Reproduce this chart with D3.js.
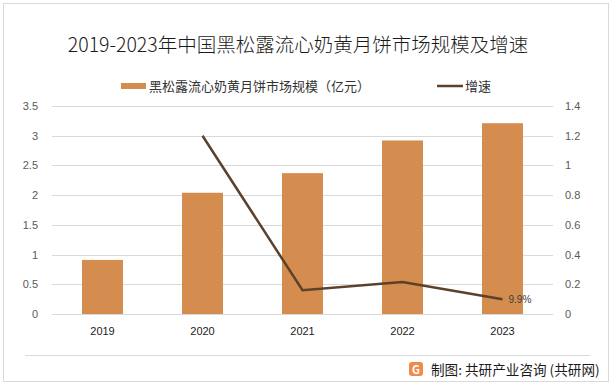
<!DOCTYPE html>
<html>
<head>
<meta charset="utf-8">
<script src="https://cdn.jsdelivr.net/npm/d3@7"></script>
<style>
  body { margin: 0; background: #fff; }
  text { font-family: "Noto Sans CJK SC", "Noto Sans", sans-serif; }
</style>
</head>
<body>
<script>
// data
const years = ["2019", "2020", "2021", "2022", "2023"];
const marketSize = [0.91, 2.04, 2.37, 2.92, 3.21];
const growthYears = ["2020", "2021", "2022", "2023"];
const growthRate = [1.2, 0.16, 0.215, 0.099];
const leftTicks = [0, 0.5, 1, 1.5, 2, 2.5, 3, 3.5];
const rightTicks = [0, 0.2, 0.4, 0.6, 0.8, 1, 1.2, 1.4];

const width = 613, height = 386;
const margin = { top: 106, right: 60, bottom: 72, left: 52 };
const chartWidth = width - margin.left - margin.right;
const chartHeight = height - margin.top - margin.bottom;

const barColor = "#d48c4f";
const lineColor = "#5c412b";

const root = d3.select("body").append("svg")
    .attr("width", width)
    .attr("height", height);

// outer frame
root.append("rect")
    .attr("x", 3.5).attr("y", 3.5)
    .attr("width", width - 8).attr("height", height - 8)
    .attr("fill", "#fff")
    .attr("stroke", "#d9d9d9");

// title
root.append("text")
    .attr("x", 298)
    .attr("y", 52)
    .attr("text-anchor", "middle")
    .style("font-size", "19.5px")
    .style("font-weight", "300")
    .attr("fill", "#1a1a1a")
    .text("2019-2023年中国黑松露流心奶黄月饼市场规模及增速");

// legend
const legend = root.append("g").style("font-size", "13px").attr("fill", "#333");
legend.append("rect").attr("x", 121).attr("y", 83).attr("width", 25).attr("height", 6).attr("fill", barColor);
legend.append("text").attr("x", 149).attr("y", 91).text("黑松露流心奶黄月饼市场规模（亿元）");
legend.append("line").attr("x1", 437).attr("x2", 463).attr("y1", 86).attr("y2", 86)
    .attr("stroke", lineColor).attr("stroke-width", 2.5);
legend.append("text").attr("x", 465).attr("y", 91).text("增速");

const svg = root.append("g")
    .attr("transform", `translate(${margin.left},${margin.top})`);

// scales
const x = d3.scaleBand().domain(years).range([0, chartWidth]).paddingInner(0.59).paddingOuter(0.3);
const xc = d => x(d) + x.bandwidth() / 2;
const yLeft = d3.scaleLinear().domain([0, 3.5]).range([chartHeight, 0]);
const yRight = d3.scaleLinear().domain([0, 1.4]).range([chartHeight, 0]);

// gridlines
svg.append("g")
    .selectAll("line")
    .data(leftTicks)
    .join("line")
    .attr("x1", 0).attr("x2", chartWidth)
    .attr("y1", d => Math.round(yLeft(d)) + 0.5)
    .attr("y2", d => Math.round(yLeft(d)) + 0.5)
    .attr("stroke", "#d9d9d9");

// left axis
const axL = svg.append("g")
    .call(d3.axisLeft(yLeft).tickValues(leftTicks).tickSize(0).tickPadding(14).tickFormat(d3.format("")));
axL.select(".domain").remove();
axL.selectAll("text").style("font-size", "11px").attr("fill", "#595959").style("font-family", "'Liberation Sans', sans-serif");

// right axis
const axR = svg.append("g")
    .attr("transform", `translate(${chartWidth},0)`)
    .call(d3.axisRight(yRight).tickValues(rightTicks).tickSize(0).tickPadding(12).tickFormat(d3.format("")));
axR.select(".domain").remove();
axR.selectAll("text").style("font-size", "11px").attr("fill", "#595959").style("font-family", "'Liberation Sans', sans-serif");

// bars
svg.append("g")
    .selectAll("rect")
    .data(years)
    .join("rect")
    .attr("x", d => x(d))
    .attr("y", (d, i) => yLeft(marketSize[i]))
    .attr("width", x.bandwidth())
    .attr("height", (d, i) => chartHeight - yLeft(marketSize[i]))
    .attr("fill", barColor);

// x axis labels
const axB = svg.append("g")
    .attr("transform", `translate(0,${chartHeight})`)
    .call(d3.axisBottom(x).tickSize(0).tickPadding(13));
axB.select(".domain").remove();
axB.selectAll("text").style("font-size", "11px").attr("fill", "#1a1a1a").style("font-family", "'Liberation Sans', sans-serif");

// growth line
const line = d3.line()
    .x((d, i) => xc(growthYears[i]))
    .y(d => yRight(d));
svg.append("path")
    .datum(growthRate)
    .attr("d", line)
    .attr("fill", "none")
    .attr("stroke", lineColor)
    .attr("stroke-width", 2.5);

// last point label
const lastI = growthRate.length - 1;
svg.append("text")
    .attr("x", xc(growthYears[lastI]) + 6)
    .attr("y", yRight(growthRate[lastI]) + 4)
    .style("font-size", "10px")
    .style("font-family", "'Liberation Sans', sans-serif")
    .attr("fill", "#404040")
    .text(d3.format(".1%")(growthRate[lastI]));

// footer
root.append("line")
    .attr("x1", 25).attr("x2", 590)
    .attr("y1", 355.5).attr("y2", 355.5)
    .attr("stroke", "#d9d9d9");

const logo = root.append("g").attr("transform", "translate(409,362)");
logo.append("rect").attr("width", 14).attr("height", 14).attr("rx", 3).attr("fill", "#f08a4b");
logo.append("text").attr("x", 7).attr("y", 11.5).attr("text-anchor", "middle")
    .style("font-size", "11px").style("font-weight", "bold").attr("fill", "#fff").text("G");

root.append("text")
    .attr("x", 431)
    .attr("y", 375)
    .style("font-size", "13.6px")
    .attr("fill", "#1a1a1a")
    .text("制图: 共研产业咨询 (共研网)");
</script>
</body>
</html>
